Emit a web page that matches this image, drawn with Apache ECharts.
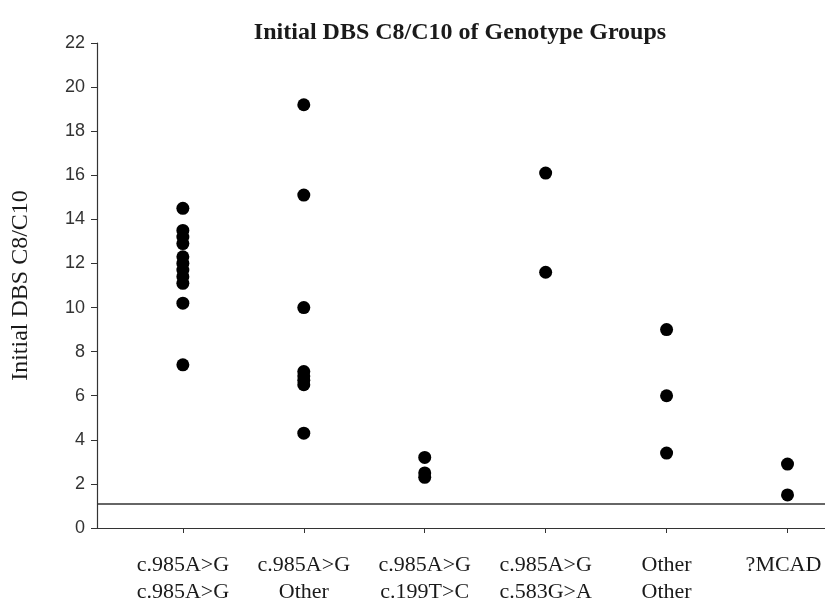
<!DOCTYPE html>
<html>
<head>
<meta charset="utf-8">
<script src="https://cdn.jsdelivr.net/npm/echarts@6/dist/echarts.min.js"></script>
<style>html,body{margin:0;padding:0;background:#fff}#c{width:825px;height:606px}</style>
</head>
<body>
<div id="c"></div>
<script>
const groupLabels = [
  'c.985A>G\nc.985A>G',
  'c.985A>G\nOther',
  'c.985A>G\nc.199T>C',
  'c.985A>G\nc.583G>A',
  'Other\nOther',
  '?MCAD'
];
const g1 = [14.5, 13.5, 13.2, 12.9, 12.3, 12.0, 11.7, 11.4, 11.1, 10.2, 7.4];
const g2 = [19.2, 15.1, 10.0, 7.1, 6.9, 6.7, 6.5, 4.3];
const g3 = [3.2, 2.5, 2.3];
const g4 = [16.1, 11.6];
const g5 = [9.0, 6.0, 3.4];
const g6 = [2.9, 1.5];
const cutoff = 1.1;
const yTicks = [0, 2, 4, 6, 8, 10, 12, 14, 16, 18, 20, 22];

const groups = [g1, g2, g3, g4, g5, g6];
const points = [];
groups.forEach((g, i) => g.forEach(v => points.push([i, v])));

const chart = echarts.init(document.getElementById('c'), null, {renderer: 'canvas'});
chart.setOption({
  animation: false,
  backgroundColor: '#ffffff',
  title: {
    text: 'Initial DBS C8/C10 of Genotype Groups',
    left: 455, top: 16, textAlign: 'center',
    textStyle: {fontFamily: 'Liberation Serif', fontSize: 24, fontWeight: 'bold', color: '#1a1a1a'}
  },
  grid: {left: 97, right: 0, top: 43, bottom: 78, containLabel: false, outerBoundsMode: 'none'},
  xAxis: {
    type: 'value', min: -0.71, max: 5.31,
    axisLine: {show: true, onZero: false, lineStyle: {color: '#333', width: 1.2}},
    splitLine: {show: false},
    axisTick: {show: true, length: 5, customValues: [0, 1, 2, 3, 4, 5], lineStyle: {color: '#333'}},
    axisLabel: {
      customValues: [0, 1, 2, 3, 4, 5],
      formatter: v => {
        const i = Math.round(v);
        return i === groupLabels.length - 1 ? '{last|' + groupLabels[i] + '}' : groupLabels[i];
      },
      margin: 24, fontFamily: 'Liberation Serif', fontSize: 22, lineHeight: 27,
      color: '#1a1a1a', align: 'center', verticalAlign: 'top',
      rich: {last: {fontFamily: 'Liberation Serif', fontSize: 22, lineHeight: 27, color: '#1a1a1a', padding: [0, 8, 0, 0]}}
    }
  },
  yAxis: {
    type: 'value', min: yTicks[0], max: yTicks[yTicks.length - 1], interval: 2,
    name: 'Initial DBS C8/C10', nameLocation: 'middle', nameGap: 64, nameRotate: 90,
    nameTextStyle: {fontFamily: 'Liberation Serif', fontSize: 24, color: '#1a1a1a'},
    axisLine: {show: true, onZero: false, lineStyle: {color: '#333', width: 1.2}},
    axisTick: {show: true, length: 6, lineStyle: {color: '#333'}},
    splitLine: {show: false},
    axisLabel: {fontFamily: 'Liberation Sans', fontSize: 18, color: '#333', margin: 12}
  },
  series: [{
    type: 'scatter',
    data: points,
    symbol: 'circle', symbolSize: 13,
    itemStyle: {color: '#000', opacity: 1},
    markLine: {
      silent: true, symbol: ['none', 'none'], label: {show: false},
      lineStyle: {color: '#333', type: 'solid', width: 1.5},
      data: [{yAxis: cutoff}]
    }
  }]
});
</script>
</body>
</html>
